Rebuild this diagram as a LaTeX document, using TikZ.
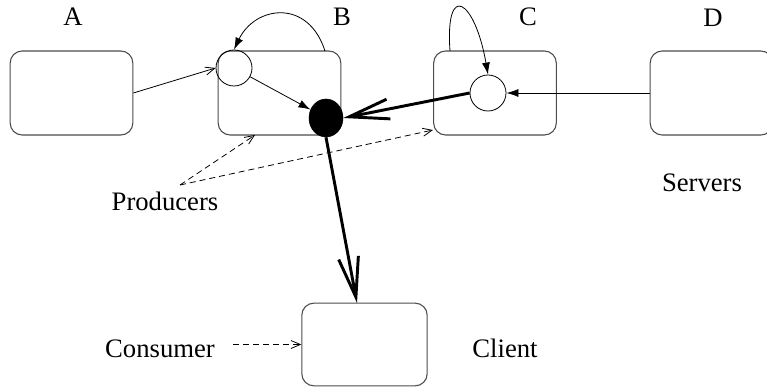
\documentclass[tikz,border=0pt]{standalone}
\usepackage{fontspec}
\setmainfont{Liberation Serif}
\usetikzlibrary{arrows.meta,shapes.geometric}
\begin{document}
\begin{tikzpicture}[x=0.75pt, y=-0.75pt,
    every node/.style={font=\fontsize{20}{24}\selectfont},
    hostbox/.style={draw=black!70, line width=0.8pt, rounded corners=9pt, minimum width=92pt, minimum height=63pt, inner sep=0pt},
    queue/.style={draw, circle, line width=0.6pt, minimum size=27pt, inner sep=0pt},
    thinarrow/.style={line width=0.6pt, -{Straight Barb[length=7pt,width=6pt]}},
    fillarrow/.style={line width=0.6pt, -{Latex[length=9pt,width=6pt]}},
    bigarrow/.style={line width=2.2pt, -{Straight Barb[length=30pt,width=15pt]}},
    hint/.style={line width=0.6pt, dash pattern=on 4.5pt off 3pt, -{Straight Barb[length=7pt,width=6pt]}}]
    \useasboundingbox (0,0) rectangle (767,388);
    \node[hostbox] (hostA) at (71.5,93) {};
    \node[hostbox] (hostB) at (279.5,93) {};
    \node[hostbox] (hostC) at (495,93) {};
    \node[hostbox] (hostD) at (711.5,93) {};
    \node[hostbox, minimum width=94pt, minimum height=62pt] (client) at (364.5,344.5) {};

    \node (labA) at (73,17) {A};
    \node (labB) at (342,17) {B};
    \node (labC) at (528,17) {C};
    \node (labD) at (713,18) {D};
    \node[anchor=base] (servers) at (702,192) {Servers};
    \node[anchor=base] (producers) at (165,211) {Producers};
    \node[anchor=base] (consumer) at (160,357) {Consumer};
    \node[anchor=base] (clientlab) at (505,357) {Client};

    \node[queue] (qB) at (234,68) {};
    \node[queue] (qC) at (488,93) {};
    \node[draw, fill=black, ellipse, minimum width=25.5pt, minimum height=28.5pt, inner sep=0pt] (merge) at (326,118) {};

    \coordinate (loopB) at (325,51);
    \coordinate (loopC) at (450,51);
    \coordinate (clientin) at (357,303);
    \coordinate (prodpt) at (180,185);
    \coordinate (prodB) at (255,135);
    \coordinate (prodC) at (433,130);

    \draw[thinarrow] (hostA.east) -- (qB.west);
    \draw[fillarrow] (qB) -- (merge);
    \draw[fillarrow] (loopB) .. controls (308,-2) and (255,6) .. (qB.north);
    \draw[fillarrow] (loopC) .. controls (445,-20) and (475,0) .. (qC.north);
    \draw[fillarrow] (hostD.west) -- (qC.east);
    \draw[bigarrow] (qC.west) -- (merge.east);
    \draw[bigarrow] (merge.south) -- (clientin);

    \draw[hint] (prodpt) -- (prodB);
    \draw[hint] (prodpt) -- (prodC);
    \draw[hint] ([xshift=10pt]consumer.east |- client.west) -- (client.west);
\end{tikzpicture}
\end{document}
